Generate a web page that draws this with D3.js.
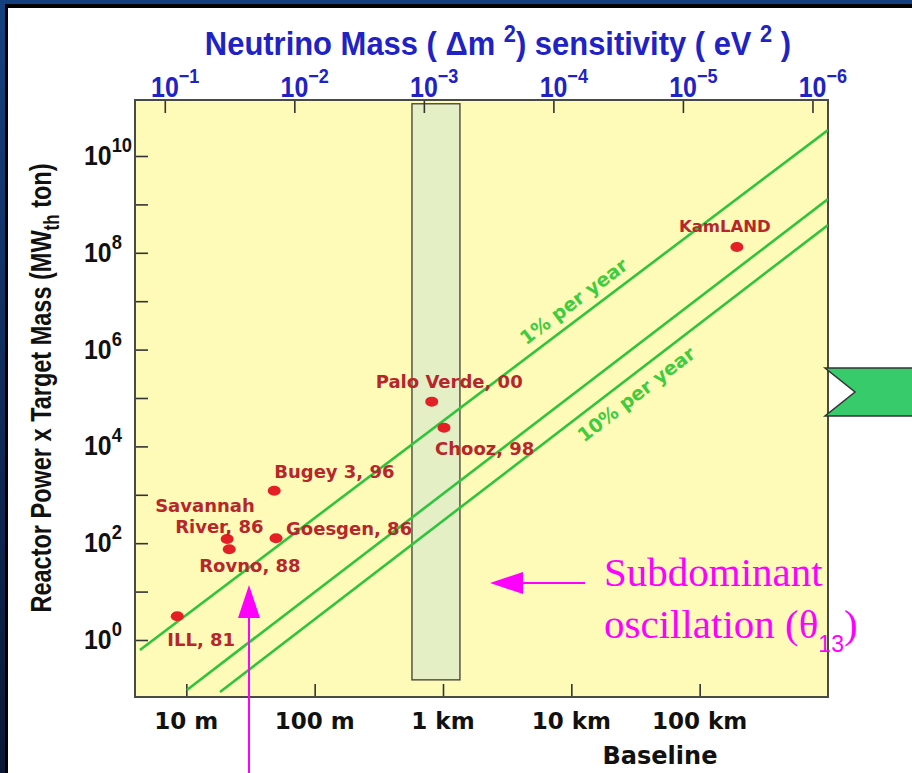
<!DOCTYPE html>
<html>
<head>
<meta charset="utf-8">
<script src="https://cdn.jsdelivr.net/npm/d3@7"></script>
<style>
  html, body { margin: 0; padding: 0; background: #fff; }
  svg { display: block; }
</style>
</head>
<body>
<svg id="chart" width="912" height="773"></svg>
<script>
// Reactor neutrino experiments: baseline (m) vs reactor power x target mass (MW_th ton)
const experiments = ["ILL, 81", "Savannah River, 86", "Rovno, 88", "Goesgen, 86",
                     "Bugey 3, 96", "Palo Verde, 00", "Chooz, 98", "KamLAND"];
const baselines = [8.5, 20.8, 21.6, 50, 48.4, 817, 1018, 195000];
const exposures = [3.1, 122, 75, 126, 1215, 84000, 24300, 1.32e8];

// Constant-sensitivity lines, each given by its two end points
const sensitivityLabels = ["1% per year", "", "10% per year"];
const lineBaselines = [[4.35, 1e6], [10.1, 1e6], [18.3, 1e6]];
const lineExposures = [[0.62, 3.44e10], [0.093, 1.29e9], [0.084, 3.75e8]];
// where along each line its label sits (baseline, m)
const labelBaselines = [12500, null, 26500];

// The ~1 km baseline window
const windowBaselines = [573, 1355];
const windowExposures = [0.15, 1.2e11];

// Axes
const baselineTicks = [10, 100, 1000, 10000, 100000];
const baselineTickLabels = ["10 m", "100 m", "1 km", "10 km", "100 km"];
const dm2Ticks = [1e-1, 1e-2, 1e-3, 1e-4, 1e-5, 1e-6];
const dm2Exponents = ["\u22121", "\u22122", "\u22123", "\u22124", "\u22125", "\u22126"];
const exposureTicks = [1, 1e1, 1e2, 1e3, 1e4, 1e5, 1e6, 1e7, 1e8, 1e9, 1e10];
const exposureLabelTicks = [1, 1e2, 1e4, 1e6, 1e8, 1e10];
const exposureExponents = ["0", "2", "4", "6", "8", "10"];

const svg = d3.select("#chart");
const W = 912, H = 773;
const plot = { left: 135, right: 828, top: 100, bottom: 697 };

// ---------- slide frame ----------
const defs = svg.append("defs");
const grad = defs.append("linearGradient").attr("id", "slideBlue")
  .attr("x1", 0).attr("y1", 0).attr("x2", 0).attr("y2", 1);
grad.append("stop").attr("offset", "0%").attr("stop-color", "#15407f");
grad.append("stop").attr("offset", "100%").attr("stop-color", "#0a1836");
svg.append("rect").attr("width", W).attr("height", H).attr("fill", "url(#slideBlue)");
svg.append("rect").attr("x", 5).attr("y", 4).attr("width", W).attr("height", H).attr("fill", "#000");
svg.append("rect").attr("x", 8).attr("y", 8).attr("width", W).attr("height", H).attr("fill", "#fff");

// ---------- scales ----------
const x = d3.scaleLog().domain([Math.pow(10, 0.6), 1e6]).range([plot.left, plot.right]);
const y = d3.scaleLog().domain([Math.pow(10, -1.178), Math.pow(10, 11.157)]).range([plot.bottom, plot.top]);
const xTop = d3.scaleLog().domain([Math.pow(10, -0.77), Math.pow(10, -6.12)]).range([plot.left, plot.right]);

// plot background
svg.append("rect")
  .attr("x", plot.left).attr("y", plot.top)
  .attr("width", plot.right - plot.left).attr("height", plot.bottom - plot.top)
  .attr("fill", "#fdfbb7");

defs.append("clipPath").attr("id", "plotClip").append("rect")
  .attr("x", plot.left).attr("y", plot.top)
  .attr("width", plot.right - plot.left).attr("height", plot.bottom - plot.top);

// 1 km window
svg.append("rect")
  .attr("x", x(windowBaselines[0])).attr("y", y(windowExposures[1]))
  .attr("width", x(windowBaselines[1]) - x(windowBaselines[0]))
  .attr("height", y(windowExposures[0]) - y(windowExposures[1]))
  .attr("fill", "#e4efc6").attr("stroke", "#4a4a3a").attr("stroke-width", 1.4);

// ---------- axes (ticks point inward) ----------
const tickLen = 13;
const axisStyle = g => {
  g.select(".domain").remove();
  g.selectAll(".tick line").attr("stroke", "#333").attr("stroke-width", 1.6);
  g.selectAll(".tick text").remove();
};
svg.append("g").attr("transform", `translate(0,${plot.bottom})`)
  .call(d3.axisBottom(x).tickValues(baselineTicks).tickSize(-tickLen)).call(axisStyle);
svg.append("g").attr("transform", `translate(0,${plot.top})`)
  .call(d3.axisTop(xTop).tickValues(dm2Ticks).tickSize(-tickLen)).call(axisStyle);
svg.append("g").attr("transform", `translate(${plot.left},0)`)
  .call(d3.axisLeft(y).tickValues(exposureTicks).tickSize(-tickLen)).call(axisStyle);

// frame
svg.append("rect")
  .attr("x", plot.left).attr("y", plot.top)
  .attr("width", plot.right - plot.left).attr("height", plot.bottom - plot.top)
  .attr("fill", "none").attr("stroke", "#4a4a44").attr("stroke-width", 2);

// bottom tick labels
svg.append("g").selectAll("text").data(baselineTicks).join("text")
  .attr("x", d => x(d)).attr("y", 729)
  .attr("text-anchor", "middle")
  .attr("font-family", "'DejaVu Sans', sans-serif").attr("font-weight", "bold")
  .attr("font-size", 23).attr("fill", "#111")
  .text((d, i) => baselineTickLabels[i]);
svg.append("text").attr("x", 660).attr("y", 764).attr("text-anchor", "middle")
  .attr("font-family", "'DejaVu Sans', sans-serif").attr("font-weight", "bold")
  .attr("font-size", 24).attr("fill", "#111").text("Baseline");

// top tick labels: 10 with exponent (condensed)
const topLab = svg.append("g").selectAll("text").data(dm2Ticks).join("text")
  .attr("transform", d => `translate(${xTop(d)},97) scale(0.86,1)`)
  .attr("x", -16)
  .attr("font-family", "'Liberation Sans', sans-serif")
  .attr("font-weight", "bold").attr("fill", "#1f22c4");
topLab.append("tspan").attr("font-size", 29).text("10");
topLab.append("tspan").attr("font-size", 21).attr("dy", -14).text((d, i) => dm2Exponents[i]);

// top title (condensed)
const title = svg.append("text").attr("transform", "translate(498,55) scale(0.91,1)")
  .attr("text-anchor", "middle")
  .attr("font-family", "'Liberation Sans', sans-serif")
  .attr("font-weight", "bold").attr("font-size", 34).attr("fill", "#1f22c4");
title.append("tspan").text("Neutrino Mass ( \u0394m ");
title.append("tspan").attr("font-size", 24).attr("dy", -13).text("2");
title.append("tspan").attr("dy", 13).text(") sensitivity ( eV ");
title.append("tspan").attr("font-size", 24).attr("dy", -13).text("2");
title.append("tspan").attr("dy", 13).text(" )");

// left tick labels
const leftLab = svg.append("g").selectAll("text").data(exposureLabelTicks).join("text")
  .attr("transform", d => `translate(84,${y(d) + 9}) scale(0.92,1)`)
  .attr("font-family", "'Liberation Sans', sans-serif")
  .attr("font-weight", "bold").attr("fill", "#111");
leftLab.append("tspan").attr("font-size", 27).text("10");
leftLab.append("tspan").attr("font-size", 20).attr("dy", -13).text((d, i) => exposureExponents[i]);

// left title (rotated, widened across so it reads tall and narrow)
const yTitle = svg.append("text")
  .attr("transform", "translate(51,388) scale(1.25,1) rotate(-90)")
  .attr("text-anchor", "middle")
  .attr("font-family", "'Liberation Sans', sans-serif")
  .attr("font-weight", "bold").attr("font-size", 23.5).attr("fill", "#111");
yTitle.append("tspan").text("Reactor Power x Target Mass (MW");
yTitle.append("tspan").attr("font-size", 17).attr("dy", 6).text("th");
yTitle.append("tspan").attr("dy", -6).text(" ton)");

// ---------- sensitivity lines ----------
const plotArea = svg.append("g").attr("clip-path", "url(#plotClip)");
const line = d3.line().x(d => x(d[0])).y(d => y(d[1]));
const lineData = lineBaselines.map((b, i) => b.map((v, j) => [v, lineExposures[i][j]]));
plotArea.selectAll("path.sens").data(lineData).join("path")
  .attr("class", "sens").attr("d", line)
  .attr("fill", "none").attr("stroke", "#2fc43c").attr("stroke-width", 2.6);

// labels along the lines
const labelOffsets = [-10, null, 24];
lineData.forEach((pts, i) => {
  if (!sensitivityLabels[i]) return;
  const [p0, p1] = pts;
  const x0 = x(p0[0]), y0 = y(p0[1]), x1 = x(p1[0]), y1 = y(p1[1]);
  const ang = Math.atan2(y1 - y0, x1 - x0) * 180 / Math.PI;
  const t = (Math.log10(labelBaselines[i]) - Math.log10(p0[0])) / (Math.log10(p1[0]) - Math.log10(p0[0]));
  const lx = x0 + t * (x1 - x0), ly = y0 + t * (y1 - y0);
  svg.append("text")
    .attr("transform", `translate(${lx},${ly}) rotate(${ang}) translate(0,${labelOffsets[i]})`)
    .attr("text-anchor", "middle")
    .attr("font-family", "'DejaVu Sans', sans-serif").attr("font-weight", "bold")
    .attr("font-size", 19).attr("fill", "#3fcc3f")
    .text(sensitivityLabels[i]);
});

// ---------- experiments ----------
const labelLayout = [
  [{ dx: -10, dy: 30, t: "ILL, 81" }],
  [{ dx: -72, dy: -27, t: "Savannah" }, { dx: -52, dy: -6, t: "River, 86" }],
  [{ dx: -30, dy: 23, t: "Rovno, 88" }],
  [{ dx: 10, dy: -3, t: "Goesgen, 86" }],
  [{ dx: 0, dy: -13, t: "Bugey 3, 96" }],
  [{ dx: -56, dy: -14, t: "Palo Verde, 00" }],
  [{ dx: -9, dy: 27, t: "Chooz, 98" }],
  [{ dx: -58, dy: -15, t: "KamLAND" }]
];
experiments.forEach((name, i) => {
  const cx = x(baselines[i]), cy = y(exposures[i]);
  svg.append("ellipse").attr("cx", cx).attr("cy", cy).attr("rx", 6.5).attr("ry", 5)
    .attr("fill", "#e41f26");
  labelLayout[i].forEach(l => {
    svg.append("text").attr("x", cx + l.dx).attr("y", cy + l.dy)
      .attr("font-family", "'DejaVu Sans', sans-serif").attr("font-weight", "bold")
      .attr("font-size", i === 7 ? 16.5 : 18).attr("fill", "#b7262b")
      .text(l.t);
  });
});

// ---------- annotations ----------
const magenta = "#ff00ff";
// horizontal arrow
svg.append("line").attr("x1", 585).attr("y1", 583).attr("x2", 512).attr("y2", 583)
  .attr("stroke", magenta).attr("stroke-width", 2);
svg.append("path").attr("d", "M490,583 L523,572 L523,594 Z").attr("fill", magenta);
// vertical arrow
svg.append("line").attr("x1", 249).attr("y1", 773).attr("x2", 249).attr("y2", 610)
  .attr("stroke", magenta).attr("stroke-width", 2);
svg.append("path").attr("d", "M249,585 L238,618 L260,618 Z").attr("fill", magenta);

svg.append("text").attr("x", 604).attr("y", 586)
  .attr("font-family", "'Liberation Serif', serif").attr("font-size", 41).attr("fill", magenta)
  .text("Subdominant");
const osc = svg.append("text").attr("x", 604).attr("y", 638)
  .attr("font-family", "'Liberation Serif', serif").attr("font-size", 41).attr("fill", magenta);
osc.append("tspan").text("oscillation (\u03b8");
osc.append("tspan").attr("font-family", "'Liberation Sans', sans-serif").attr("font-size", 23)
  .attr("dy", 14).text("13");
osc.append("tspan").attr("dy", -14).text(")");

// green chevron pointer at the right edge
svg.append("path").attr("d", "M825,368 L915,368 L915,416 L825,416 L855,392 Z")
  .attr("fill", "#37cb6b").attr("stroke", "#333").attr("stroke-width", 1.5);
</script>
</body>
</html>
